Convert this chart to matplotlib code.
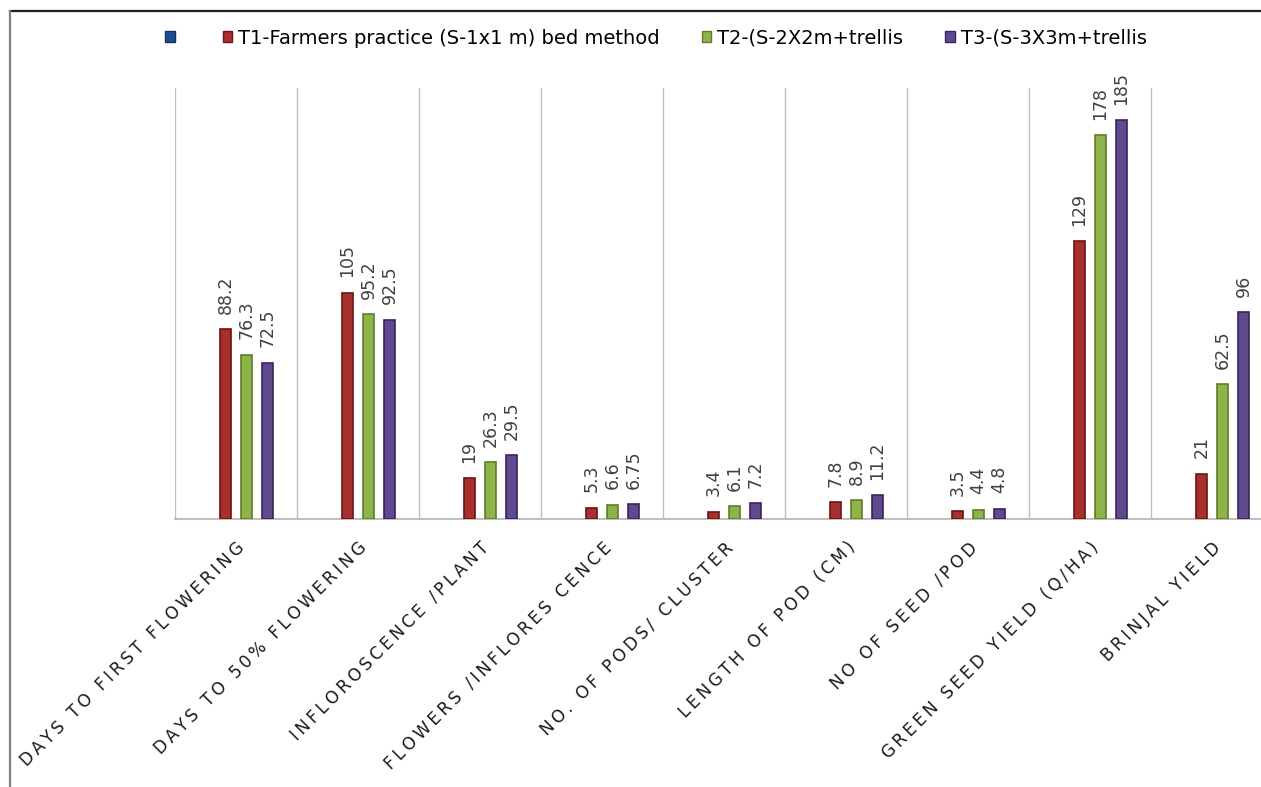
import matplotlib
matplotlib.use('Agg')
from matplotlib import pyplot as plt
from matplotlib.patches import Patch
import numpy as np

categories = ['DAYS TO FIRST FLOWERING', 'DAYS TO 50% FLOWERING', 'INFLOROSCENCE /PLANT',
              'FLOWERS /INFLORES CENCE', 'NO. OF PODS/ CLUSTER', 'LENGTH OF POD (CM)',
              'NO OF SEED /POD', 'GREEN SEED YIELD (Q/HA)', 'BRINJAL YIELD']
t1 = [88.2, 105, 19, 5.3, 3.4, 7.8, 3.5, 129, 21]
t2 = [76.3, 95.2, 26.3, 6.6, 6.1, 8.9, 4.4, 178, 62.5]
t3 = [72.5, 92.5, 29.5, 6.75, 7.2, 11.2, 4.8, 185, 96]
t1Labels = ['88.2', '105', '19', '5.3', '3.4', '7.8', '3.5', '129', '21']
t2Labels = ['76.3', '95.2', '26.3', '6.6', '6.1', '8.9', '4.4', '178', '62.5']
t3Labels = ['72.5', '92.5', '29.5', '6.75', '7.2', '11.2', '4.8', '185', '96']
seriesNames = ['', 'T1-Farmers practice (S-1x1 m) bed method',
               'T2-(S-2X2m+trellis', 'T3-(S-3X3m+trellis']

W, H = 1261, 787
fig = plt.figure(figsize=(W/100., H/100.), dpi=100)

# outer chart frame (only top and left edges visible in the crop)
fig.add_artist(plt.Line2D([10/W, 1], [1-11/H, 1-11/H], color='#202020', lw=1.6))
fig.add_artist(plt.Line2D([10/W, 10/W], [0, 1-11/H], color='#808080', lw=1.6))

ax = fig.add_axes([175/W, (H-519)/H, 1098/W, (519-88)/H])
x = np.arange(len(categories))
slot = 0.172
barW = 0.088
fills = ['#1F4E8C', '#A6302E', '#8DB34A', '#5E4A8C']
edges = ['#123260', '#6E1212', '#5D7E28', '#3A245F']

allVals = [None, t1, t2, t3]
allLabels = [None, t1Labels, t2Labels, t3Labels]
for k in range(1, 4):
    xpos = x + (k - 1.5) * slot
    ax.bar(xpos, allVals[k], width=barW, color=fills[k], edgecolor=edges[k], lw=1.2, zorder=3)
    for xi, v, lab in zip(xpos, allVals[k], allLabels[k]):
        ax.annotate(lab, (xi, v), xytext=(0, 11), textcoords='offset points',
                    rotation=90, ha='center', va='bottom', fontsize=12.5, color='#404040')

ax.set_xlim(-0.5, len(categories) - 0.5)
ax.set_ylim(0, 200)
ax.set_yticks([])
ax.set_xticks(np.arange(-0.5, len(categories), 1), minor=True)
ax.grid(which='minor', axis='x', color='#BFBFBF', lw=1)
ax.tick_params(which='both', length=0)
for s in ['top', 'right', 'left']:
    ax.spines[s].set_visible(False)
ax.spines['bottom'].set_color('#BFBFBF')
ax.spines['bottom'].set_linewidth(1.5)

spaced = ['\u2009'.join(c) for c in categories]
ax.set_xticks(x)
ax.set_xticklabels(spaced, rotation=45, ha='right', rotation_mode='anchor',
                   fontsize=12.2, color='#1A1A1A')
ax.tick_params(axis='x', pad=14)

handles = [Patch(facecolor=fills[k], edgecolor=edges[k]) for k in range(4)]
fig.legend(handles, seriesNames, loc='center', bbox_to_anchor=(656/W, 1-38/H), ncol=4,
           frameon=False, fontsize=14, handlelength=0.5, handleheight=0.5,
           handletextpad=0.3, columnspacing=2.15)

fig.savefig('out.png', dpi=100)
